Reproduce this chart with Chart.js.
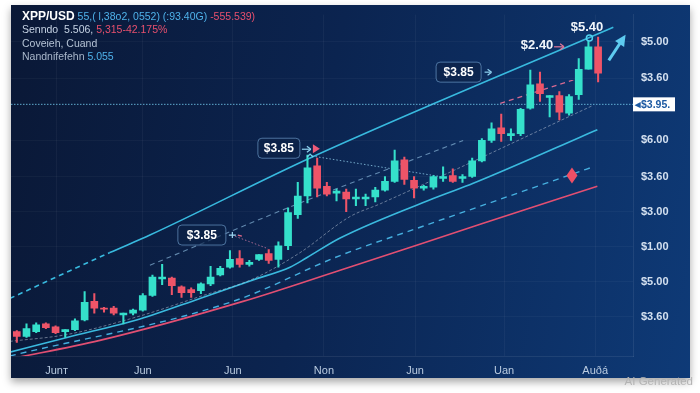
<!DOCTYPE html>
<html>
<head>
<meta charset="utf-8">
<script src="https://cdn.jsdelivr.net/npm/chart.js@4.4.1/dist/chart.umd.min.js"></script>
<style>
html, body { margin: 0; padding: 0; width: 700px; height: 393px; overflow: hidden; background: #fff;
  font-family: "Liberation Sans", Arial, sans-serif; }
#card { position: absolute; left: 11px; top: 5px; width: 679px; height: 373px;
  background: linear-gradient(100deg, #0a1836 0%, #0b2450 45%, #0e3a77 100%);
  box-shadow: 0 4px 8px rgba(0,0,0,0.35); }
#chart { position: absolute; left: 0; top: 0; }
#hdr { position: absolute; left: 22px; top: 10px; font-size: 10.5px; line-height: 13.4px; color: #c6d3e4; white-space: nowrap; }
#hdr .b { color: #4fb2ea; }
#hdr .r { color: #e8506e; }
#ai { position: absolute; right: 7px; top: 375px; font-size: 11.5px; color: #b3b3b3; }
</style>
</head>
<body>
<div id="card"></div>
<canvas id="chart" width="700" height="393"></canvas>
<div id="hdr">
  <div><b style="color:#fff;font-size:12px">XPP/USD</b> <span class="b">55,( l,38o2, 0552) (:93.40G)</span> <span class="r">-555.539)</span></div>
  <div>Senndo&nbsp; 5.506, <span class="r">5,315-42.175%</span></div>
  <div style="color:#b4c2d4">Coveieh, Cuand</div>
  <div style="color:#a9b7ca">Nandnifefehn <span class="b">5.055</span></div>
</div>
<div id="ai">AI Generated</div>
<script>
// --- dati candele (indice = sessione) ---
const opens  = [0.50,0.40,0.50,0.66,0.60,0.50,0.54,0.74,1.12,0.98,0.98,0.84,0.88,0.94,1.24,1.58,1.60,1.42,1.36,1.34,
                1.48,1.66,1.82,2.00,1.88,1.98,2.10,1.98,2.26,2.90,3.28,3.90,3.48,3.34,3.36,3.22,3.22,3.26,3.40,3.58,
                4.02,3.60,3.44,3.46,3.64,3.70,3.64,3.68,4.00,4.42,4.68,4.52,4.56,5.08,5.58,5.30,5.34,4.98,5.36,5.88,6.34];
const highs  = [0.52,0.66,0.68,0.68,0.62,0.54,0.76,1.32,1.28,1.00,1.02,0.88,0.96,1.28,1.66,1.88,1.62,1.44,1.40,1.50,
                1.84,1.84,2.16,2.16,1.96,2.08,2.18,2.34,3.04,3.56,4.12,4.06,3.56,3.42,3.42,3.42,3.32,3.46,3.68,4.22,
                4.08,3.68,3.50,3.70,3.88,3.84,3.72,4.06,4.46,4.78,4.96,4.66,5.08,5.86,5.82,5.34,5.42,5.36,6.10,6.46,6.54];
const lows   = [0.28,0.38,0.48,0.56,0.46,0.38,0.52,0.72,0.88,0.90,0.84,0.66,0.84,0.92,1.22,1.46,1.26,1.20,1.20,1.28,
                1.44,1.64,1.80,1.82,1.84,1.96,1.90,1.82,2.18,2.82,3.14,3.26,3.28,3.18,2.96,3.08,3.08,3.16,3.38,3.56,
                3.52,3.24,3.40,3.42,3.58,3.56,3.56,3.66,3.98,4.38,4.40,4.42,4.52,5.06,5.22,4.90,4.84,4.94,5.26,5.88,5.62];
const closes = [0.40,0.56,0.64,0.58,0.48,0.54,0.72,1.10,0.98,0.96,0.88,0.88,0.94,1.24,1.62,1.62,1.44,1.30,1.30,1.48,
                1.62,1.80,1.98,1.88,1.92,2.08,1.96,2.26,2.94,3.28,3.86,3.44,3.32,3.38,3.22,3.26,3.26,3.40,3.58,4.00,
                3.62,3.44,3.48,3.68,3.68,3.58,3.68,4.00,4.42,4.66,4.56,4.56,5.06,5.56,5.38,5.34,5.00,5.32,5.88,6.34,5.80];

// --- linee di canale / medie (x = sessione, y = prezzo) ---
const upperX = [-0.72, 9.6, 13.74, 30.27, 61.57];
const upperY = [1.18, 2.12, 2.48, 4.06, 6.74];
const midDashX = [13.74, 28.51, 46.07];
const midDashY = [1.86, 3.08, 4.42];
const pinkDashX = [49.9, 57.44];
const pinkDashY = [5.18, 5.66];
const thinX = [-0.72, 5.17, 12.71, 18.9, 24.38, 29.24, 34.4, 37.5, 59.5];
const thinY = [0.30, 0.44, 0.82, 1.22, 1.58, 2.12, 2.86, 3.12, 5.14];
const supportX = [-0.72, 5.17, 12.71, 18.9, 24.38, 28.2, 29.96, 33.37, 43.39, 47.11, 59.92];
const supportY = [0.08, 0.38, 0.76, 1.18, 1.56, 1.82, 2.02, 2.42, 3.26, 3.54, 4.64];
const lowDashX = [-0.72, 22.31, 33.37, 41.63, 59.5];
const lowDashY = [0.0, 1.12, 2.06, 2.64, 3.88];
const redX = [-0.72, 8.57, 23.35, 33.37, 48.14, 59.92];
const redY = [-0.06, 0.32, 1.12, 1.76, 2.72, 3.48];
const peakDotX = [30.48, 43.7];
const peakDotY = [4.10, 3.68];
const lowDotX = [22.2, 25.93];
const lowDotY = [2.48, 2.20];
const levelX = [-0.6, 63.6];
const levelY = [5.16, 5.16];

// --- etichette assi ---
const xTickPos = [4.1, 13.0, 22.3, 31.7, 41.1, 50.3, 59.7];
const xTickLabels = ['Junт', 'Jun', 'Jun', 'Non', 'Jun', 'Uan', 'Auðá'];
const yTickPos = [6.44, 5.70, 4.42, 3.68, 2.96, 2.24, 1.52, 0.80];
const yTickLabels = ['$5.00', '$3.60', '$6.00', '$3.60', '$3.00', '$1.00', '$5.00', '$3.60'];
const levelLabel = '$3.95.';

const UP = '#35e0cb', DOWN = '#ee5468';
const candleColors = opens.map((o, i) => closes[i] >= o ? UP : DOWN);
const pts = (xs, ys) => xs.map((x, i) => ({ x: x, y: ys[i] }));

function lineSet(data, color, width, dash, order, extra) {
    return Object.assign({
        type: 'line', data: data, borderColor: color, borderWidth: width, borderDash: dash,
        pointRadius: 0, fill: false, cubicInterpolationMode: 'monotone', order: order
    }, extra || {});
}

// plugin per le note sul grafico
const notesPlugin = {
    id: 'notes',
    afterDatasetsDraw(chart) {
        const { ctx, chartArea } = chart;
        const X = v => chart.scales.x.getPixelForValue(v);
        const Y = v => chart.scales.y.getPixelForValue(v);
        ctx.save();

        function box(cx, cy, w, text) {
            ctx.beginPath();
            ctx.roundRect(cx - w / 2, cy - 10, w, 20, 4);
            ctx.fillStyle = 'rgba(12,34,70,0.65)';
            ctx.fill();
            ctx.strokeStyle = 'rgba(120,168,215,0.6)';
            ctx.lineWidth = 1;
            ctx.stroke();
            ctx.fillStyle = '#ffffff';
            ctx.font = 'bold 12px "Liberation Sans", Arial';
            ctx.textAlign = 'center';
            ctx.textBaseline = 'middle';
            ctx.fillText(text, cx, cy + 0.5);
        }
        function arrowRight(x0, x1, yy, color) {
            ctx.strokeStyle = color; ctx.fillStyle = color; ctx.lineWidth = 1.2;
            ctx.beginPath(); ctx.moveTo(x0, yy); ctx.lineTo(x1, yy); ctx.stroke();
            ctx.beginPath(); ctx.moveTo(x1 + 1, yy); ctx.lineTo(x1 - 3, yy - 3); ctx.moveTo(x1 + 1, yy); ctx.lineTo(x1 - 3, yy + 3); ctx.stroke();
        }

        // etichette riquadrate
        const b1x = X(45.6), b1y = Y(5.82);
        box(b1x, b1y, 45, '$3.85');
        arrowRight(b1x + 26, b1x + 32, b1y, '#8fd3f0');

        const b2x = X(27.05), b2y = Y(4.26);
        box(b2x, b2y, 42, '$3.85');
        arrowRight(b2x + 23, b2x + 31, b2y + 1, '#8fd3f0');
        ctx.fillStyle = '#ef5a78';
        ctx.beginPath(); ctx.moveTo(b2x + 34, b2y - 4); ctx.lineTo(b2x + 41, b2y + 0.5); ctx.lineTo(b2x + 34, b2y + 5); ctx.closePath(); ctx.fill();

        const b3x = X(19.1), b3y = Y(2.48);
        box(b3x, b3y, 48, '$3.85');
        ctx.strokeStyle = '#9fd6f0'; ctx.lineWidth = 1.2;
        ctx.beginPath(); ctx.moveTo(b3x + 27, b3y); ctx.lineTo(b3x + 34, b3y); ctx.moveTo(b3x + 30.5, b3y - 3); ctx.lineTo(b3x + 30.5, b3y + 3); ctx.stroke();
        ctx.strokeStyle = '#e86a8a';
        ctx.beginPath(); ctx.moveTo(b3x + 36, b3y); ctx.lineTo(b3x + 40, b3y + 1); ctx.stroke();

        // prezzi in alto
        ctx.font = 'bold 13px "Liberation Sans", Arial';
        ctx.textAlign = 'center'; ctx.textBaseline = 'middle';
        ctx.fillStyle = '#f2f6fb';
        ctx.fillText('$2.40', X(53.7), Y(6.36));
        ctx.fillText('$5.40', X(58.85), Y(6.74));
        arrowRight(X(53.7) + 17, X(53.7) + 26, Y(6.36) + 1, '#e6789a');

        // cerchio sul massimo
        ctx.strokeStyle = '#4fd0ee'; ctx.lineWidth = 1.5;
        ctx.beginPath(); ctx.arc(X(59.1), Y(6.52), 3, 0, Math.PI * 2); ctx.stroke();

        // freccia grande ciano
        const ax0 = X(61.1), ay0 = Y(6.06), ax1 = X(62.55), ay1 = Y(6.5);
        const ang = Math.atan2(ay1 - ay0, ax1 - ax0);
        ctx.strokeStyle = '#5ecbf0'; ctx.fillStyle = '#5ecbf0'; ctx.lineWidth = 3;
        ctx.beginPath(); ctx.moveTo(ax0, ay0); ctx.lineTo(ax1, ay1); ctx.stroke();
        ctx.beginPath();
        ctx.moveTo(ax1 + Math.cos(ang) * 5, ay1 + Math.sin(ang) * 5);
        ctx.lineTo(ax1 + Math.cos(ang + 2.4) * 8, ay1 + Math.sin(ang + 2.4) * 8);
        ctx.lineTo(ax1 + Math.cos(ang - 2.4) * 8, ay1 + Math.sin(ang - 2.4) * 8);
        ctx.closePath(); ctx.fill();

        // marcatore sul picco
        const px = X(30.27), py = Y(4.12);
        ctx.strokeStyle = '#6fd6ef'; ctx.lineWidth = 1.3;
        ctx.beginPath(); ctx.moveTo(px - 3, py + 2); ctx.lineTo(px, py - 1); ctx.lineTo(px + 3, py + 2); ctx.stroke();

        // rombo rosso
        const dx = X(57.3), dy = Y(3.70);
        ctx.fillStyle = '#ef4f66';
        ctx.beginPath(); ctx.moveTo(dx, dy - 8); ctx.lineTo(dx + 5.5, dy); ctx.lineTo(dx, dy + 8); ctx.lineTo(dx - 5.5, dy); ctx.closePath(); ctx.fill();

        // etichetta livello a destra
        const ly = Y(levelY[0]);
        ctx.fillStyle = '#ffffff';
        ctx.fillRect(chartArea.right, ly - 7, 42, 14);
        ctx.fillStyle = '#1d5aa2';
        ctx.font = 'bold 10.5px "Liberation Sans", Arial';
        ctx.textAlign = 'left';
        ctx.fillText('\u25C2' + levelLabel, chartArea.right + 2, ly + 0.5);
        ctx.restore();
    }
};

const ctx = document.getElementById('chart').getContext('2d');
const chart = new Chart(ctx, {
    data: {
        datasets: [
            { type: 'bar', data: opens.map((o, i) => ({ x: i, y: [lows[i], highs[i]] })),
              backgroundColor: candleColors, barThickness: 1.4, grouped: false, order: 1 },
            { type: 'bar', data: opens.map((o, i) => ({ x: i, y: [o, closes[i]] })),
              backgroundColor: candleColors, barThickness: 7, grouped: false, order: 0 },
            lineSet(pts(upperX, upperY), '#38b9de', 1.6, [], 5, {
                segment: { borderDash: c => c.p0DataIndex === 0 ? [5, 4] : undefined } }),
            lineSet(pts(midDashX, midDashY), 'rgba(125,170,205,0.75)', 1.1, [5, 4], 5),
            lineSet(pts(pinkDashX, pinkDashY), '#d86a92', 1.2, [5, 4], 5),
            lineSet(pts(thinX, thinY), 'rgba(200,210,225,0.55)', 0.9, [3, 2], 5),
            lineSet(pts(supportX, supportY), '#3ab9de', 1.6, [], 5),
            lineSet(pts(lowDashX, lowDashY), '#45aede', 1.4, [6, 5], 5),
            lineSet(pts(redX, redY), '#e24f72', 1.6, [], 5),
            lineSet(pts(peakDotX, peakDotY), 'rgba(140,200,230,0.8)', 1, [1.5, 2], 4),
            lineSet(pts(lowDotX, lowDotY), 'rgba(200,120,160,0.8)', 1, [1.5, 2], 4),
            lineSet(pts(levelX, levelY), 'rgba(110,195,230,0.85)', 1, [1.5, 1.5], 4)
        ]
    },
    options: {
        responsive: false,
        animation: false,
        layout: { padding: { left: 11, top: 6, right: 22, bottom: 7 } },
        plugins: { legend: { display: false }, tooltip: { enabled: false } },
        scales: {
            x: {
                type: 'linear', min: -0.6, max: 63.6, offset: false,
                grid: { color: 'rgba(255,255,255,0.045)', drawTicks: false, offset: false },
                border: { color: 'rgba(255,255,255,0.08)' },
                afterBuildTicks: s => { s.ticks = xTickPos.map(v => ({ value: v })); },
                afterFit: s => { s.height = 30; },
                ticks: { padding: 8, color: '#b9cbe0', font: { size: 11, family: '"Liberation Sans", Arial' },
                         callback: (v, i) => xTickLabels[i] }
            },
            y: {
                type: 'linear', position: 'right', min: 0, max: 7,
                grid: { color: 'rgba(255,255,255,0.035)', drawTicks: false },
                border: { color: 'rgba(255,255,255,0.08)' },
                afterBuildTicks: s => { s.ticks = yTickPos.map(v => ({ value: v })); },
                afterFit: s => { s.width = 45; },
                ticks: { padding: 8, color: '#d3e0f0', font: { size: 11, weight: 'bold', family: '"Liberation Sans", Arial' },
                         callback: (v, i) => yTickLabels[i] }
            }
        }
    },
    plugins: [notesPlugin]
});
</script>
</body>
</html>
